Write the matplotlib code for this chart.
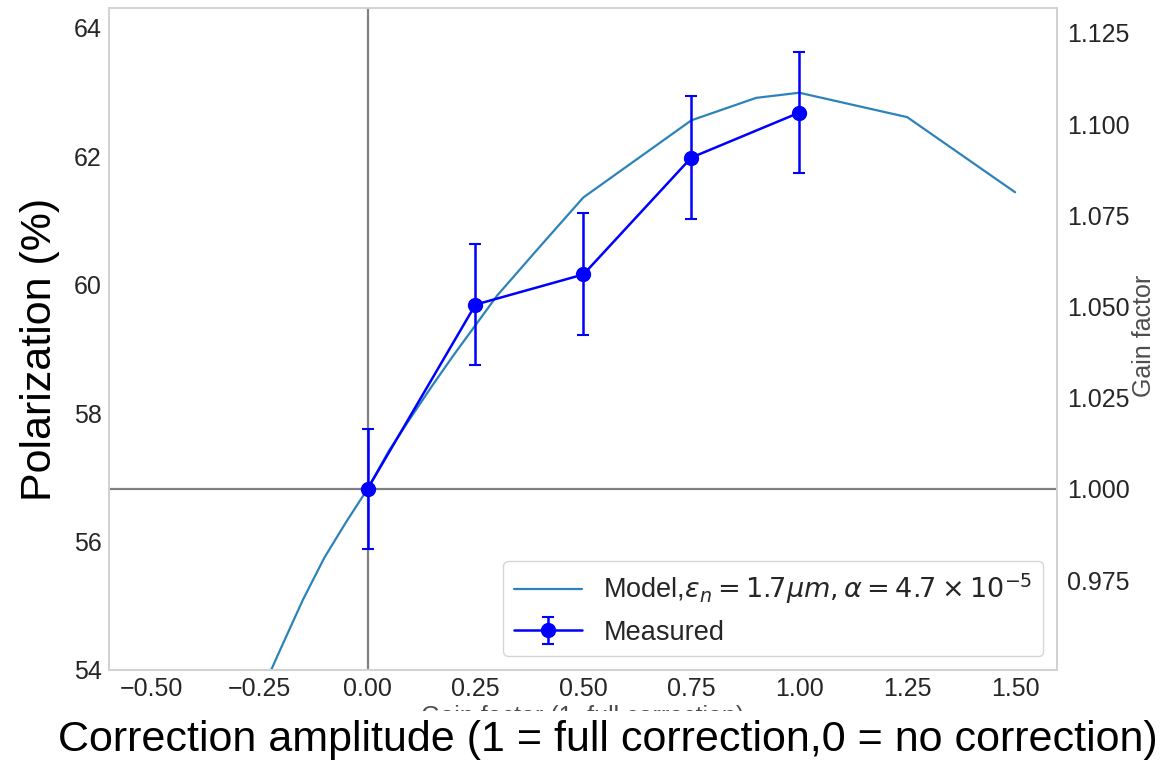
#!/usr/bin/env python
# -*- coding: utf-8 -*-
"""
polarization vs correction amplitude, with gain factor on the right axis
"""

import matplotlib
matplotlib.use("Agg")
import matplotlib.pyplot as plt
from matplotlib.patches import Rectangle
import seaborn as sns

# model curve
model_x = [-0.5, -0.4, -0.3, -0.25, -0.2, -0.15, -0.1, -0.05, 0.0, 0.05, 0.1,
           0.15, 0.2, 0.3, 0.4, 0.5, 0.75, 0.9, 1.0, 1.25, 1.5]
model_y = [49.3, 51.1, 52.8, 53.6, 54.35, 55.09, 55.75, 56.3, 56.82, 57.42,
           57.93, 58.43, 58.91, 59.83, 60.6, 61.36, 62.56, 62.91, 62.99,
           62.61, 61.44]
# measurements
meas_x = [0.0, 0.25, 0.5, 0.75, 1.0]
meas_y = [56.82, 59.69, 60.16, 61.98, 62.68]
meas_err = [0.94, 0.94, 0.95, 0.96, 0.94]
# reference polarization (gain factor = 1)
p0 = 56.82

left_ticks = [54, 56, 58, 60, 62, 64]
right_ticks = [0.975, 1.000, 1.025, 1.050, 1.075, 1.100, 1.125]
x_ticks = [-0.5, -0.25, 0.0, 0.25, 0.5, 0.75, 1.0, 1.25, 1.5]

sns.set_style("white")
plt.rcParams['font.family'] = ['Liberation Sans', 'DejaVu Sans']
plt.rcParams['mathtext.fontset'] = 'dejavusans'

fig = plt.figure(figsize=(11.76, 7.67), dpi=100)
ax = fig.add_axes([0.0923, 0.1265, 0.8065, 0.8631])

ax.axhline(p0, color='grey', lw=1.6, zorder=1)
ax.axvline(0, color='grey', lw=1.6, zorder=1)
ax.plot(model_x, model_y, color='#2b83ba', lw=1.6,
        label=r'Model,$\epsilon_n = 1.7\mu m, \alpha = 4.7 \times 10^{-5}$')
ax.errorbar(meas_x, meas_y, yerr=meas_err, color='blue', marker='o',
            markersize=10, lw=1.8, capsize=4, capthick=1.5, label='Measured')

ax.set_xlim(-0.6, 1.597)
ax.set_ylim(54.0, 64.31)
ax.set_xticks(x_ticks)
ax.set_yticks(left_ticks)
ax.tick_params(labelsize=18, colors='.15', length=0, pad=5)
for sp in ax.spines.values():
    sp.set_color('.82')
    sp.set_linewidth(1.4)
ax.set_xlabel('Gain factor (1=full correction)', fontsize=18, color='.3',
              labelpad=3)

ax2 = ax.twinx()
ax2.set_ylim(54.0 / p0, 64.31 / p0)
ax2.set_yticks(right_ticks)
ax2.set_yticklabels(['%.3f' % t for t in right_ticks])
ax2.tick_params(labelsize=18, colors='.15', length=0, pad=7)
ax2.set_ylabel('Gain factor', fontsize=18, color='.3')
ax2.yaxis.set_label_coords(1.079, 0.505)
for sp in ax2.spines.values():
    sp.set_visible(False)

ax.legend(loc='lower right', fontsize=19.5, handlelength=2.5, frameon=True,
          edgecolor='.8')

# cover the bottom of the small axis label, as in the original
fig.patches.append(Rectangle((0, 0), 1, 56 / 767, transform=fig.transFigure,
                             facecolor='white', edgecolor='none', zorder=2))
fig.text(0.034, 0.544, 'Polarization (%)', rotation=90, fontsize=31,
         color='black', ha='center', va='center', zorder=3)
fig.text(0.517, 0.035, 'Correction amplitude (1 = full correction,0 = no correction)',
         fontsize=31, color='black', ha='center', va='center', zorder=3)

fig.savefig('out.png', dpi=100)
